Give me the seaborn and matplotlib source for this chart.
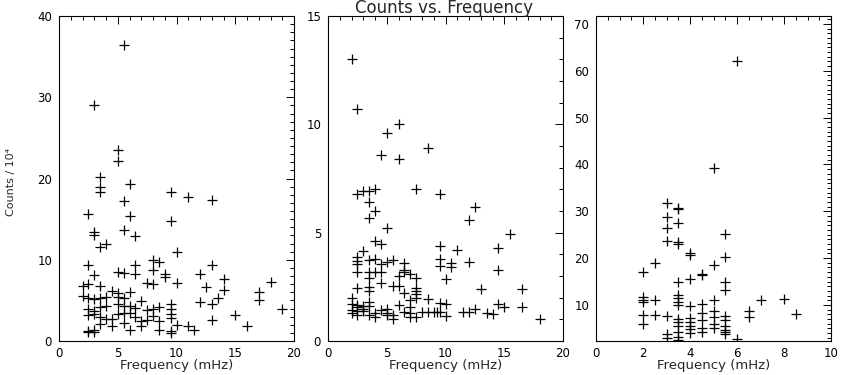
import matplotlib
matplotlib.use("Agg")
import matplotlib.pyplot as plt
from matplotlib.ticker import MultipleLocator
import seaborn as sns
import pandas as pd

# ---------------- data ----------------
freq1 = [5.5, 3, 5, 5, 3.5, 3.5, 3.5, 6, 9.5, 11, 13, 5.5, 2.5, 6, 9.5, 3, 3, 5.5, 6.5, 4, 3.5, 10,
         2.5, 6.5, 13, 8, 8.5, 3, 5, 5.5, 6.5, 8, 9, 9, 12, 14, 18, 7.5, 8, 10, 2, 2.5, 3.5, 12.5, 14,
         17, 17, 4.5, 5, 6,
         2, 2.5, 3, 3.5, 4, 5, 5.5, 7, 13.5, 12, 13, 19, 15, 16, 13, 11, 11.5, 10, 9.5,
         2.5, 3, 3.5, 4, 5, 5.5, 6, 6.5, 7.5, 8, 8.5, 9.5, 9.5,
         2.5, 3, 3.5, 4, 4.5, 5, 5.5, 6, 6.5, 7, 7.5, 8, 8.5, 9.5, 9.5,
         3.5, 4.5, 5.5, 7,
         2.5, 3, 6, 8.5, 9.5, 3, 2.5]
counts1 = [36.4, 29.0, 23.5, 22.1, 20.2, 19.0, 18.4, 19.3, 18.4, 17.7, 17.4, 17.2, 15.6, 15.4, 14.8,
           13.4, 13.1, 13.7, 12.9, 12.0, 11.6, 11.0,
           9.3, 9.3, 9.3, 10.0, 9.7, 8.1, 8.5, 8.4, 8.2, 8.7, 8.2, 7.9, 8.3, 7.6, 7.3, 7.2, 7.0, 7.1,
           6.8, 7.0, 6.8, 6.6, 6.3, 6.0, 5.0, 6.1, 5.9, 6.0,
           5.5, 5.3, 5.2, 5.3, 5.4, 5.4, 5.3, 4.9, 5.3, 4.8, 4.5, 3.9, 3.2, 1.8, 2.6, 1.8, 1.3, 2.0, 1.2,
           4.0, 3.7, 4.2, 4.3, 4.5, 4.3, 4.3, 4.1, 3.8, 4.0, 4.2, 4.6, 4.0,
           3.2, 3.3, 2.9, 2.7, 2.7, 3.3, 3.5, 3.4, 2.9, 2.5, 2.6, 3.1, 2.5, 3.3, 2.8,
           2.1, 1.9, 2.2, 1.9,
           1.2, 1.1, 1.3, 1.4, 1.0, 1.3, 1.1]

freq2 = [2, 2.5, 6, 5, 8.5, 4.5, 6, 2.5, 3, 3.5, 4, 7.5, 9.5, 12.5, 12, 3.5, 4, 3.5, 5, 15.5, 4, 4.5,
         9.5, 14.5, 11, 3,
         2.5, 2.5, 2.5, 3.5, 4, 4.5, 5, 5.5, 6.5, 9.5, 9.5, 10.5, 10.5, 12, 14.5,
         2.5, 3.5, 4, 4.5, 6.5, 6.5, 7, 6, 3.5, 4.5, 10, 7.5,
         5.5, 6, 2.5, 3.5, 3.5, 6.5, 7.5, 7.5, 7.5, 7.5, 13, 16.5, 8.5,
         2, 2, 2, 2, 2.5, 2.5, 2.5, 3, 3, 3.5, 3.5, 3.5, 4, 4, 4.5, 5, 5, 5, 5.5, 5.5, 6, 6.5, 7, 7,
         7, 7, 7.5, 8.5, 9, 9.3, 9.5, 9.5, 10, 10, 11.5, 12, 12.5, 13.5, 14, 14.5, 15, 16.5, 18, 8,
         2.5, 3]
counts2 = [13.0, 10.7, 10.0, 9.6, 8.9, 8.6, 8.4, 6.8, 6.9, 6.9, 7.0, 7.0, 6.8, 6.2, 5.6, 6.4, 6.0,
           5.7, 5.2, 4.95, 4.6, 4.5, 4.4, 4.3, 4.2, 4.15,
           3.9, 3.7, 3.55, 3.75, 3.8, 3.55, 3.65, 3.75, 3.6, 3.8, 3.45, 3.6, 3.4, 3.65, 3.3,
           3.2, 3.2, 3.2, 3.2, 3.3, 3.2, 3.1, 3.0, 2.9, 2.7, 2.85, 2.9,
           2.55, 2.55, 2.45, 2.5, 2.3, 2.2, 2.45, 2.3, 2.15, 1.97, 2.4, 2.4, 1.95,
           1.97, 1.7, 1.45, 1.3, 1.67, 1.4, 1.2, 1.6, 1.38, 1.8, 1.6, 1.2, 1.3, 1.12, 1.45, 1.5, 1.3,
           1.2, 1.2, 1.0, 1.65, 1.32, 1.55, 1.9, 1.27, 1.1, 1.1, 1.35, 1.35, 1.35, 1.75, 1.35, 1.7,
           1.15, 1.35, 1.35, 1.5, 1.3, 1.25, 1.73, 1.58, 1.58, 1.0, 1.35,
           1.55, 1.5]

freq3 = [6, 5, 3, 3.5, 3.5, 3, 3.5, 3, 5.5, 3, 3.5, 3.5, 4, 4, 5.5, 2.5, 5, 2, 4.5, 4.5, 4, 3.5,
         5.5, 5.5,
         2, 2, 2, 2.5, 3.5, 3.5, 3.5, 3.5, 4, 4.5, 5, 7, 8, 6.5, 6.5, 8.5,
         2, 2, 2.5, 3, 3.5, 3.5, 3.5, 3.5, 3.5, 3.5, 4, 4, 4, 4, 4, 4.5, 4.5, 4.5, 4.5, 5, 5, 5, 5,
         5.5, 5.5, 5.5, 5.5, 5.5, 5.5, 6, 3, 3]
counts3 = [62.0, 39.2, 31.7, 30.8, 30.5, 28.7, 27.5, 26.4, 25.2, 23.7, 23.4, 23.0, 21.0, 20.6, 20.3,
           19.0, 18.5, 17.1, 16.7, 16.4, 15.6, 15.0, 14.9, 13.2,
           11.6, 11.0, 10.7, 11.1, 12.2, 11.5, 10.6, 10.0, 9.7, 10.2, 11.1, 11.1, 11.2, 8.6, 7.5, 8.0,
           7.8, 5.9, 7.9, 7.6, 7.0, 6.3, 5.4, 4.2, 3.2, 2.6, 7.2, 6.4, 5.4, 4.8, 4.0, 8.2, 6.8, 5.1,
           4.2, 8.8, 7.5, 6.0, 5.0, 7.7, 6.8, 5.6, 4.7, 4.2, 3.7, 2.7, 3.7, 3.0]

panels = [
    dict(x=freq1, y=counts1, xlim=(0, 20), ylim=(0, 40), xmaj=5, xmin=1, ymaj=10, ymin=1),
    dict(x=freq2, y=counts2, xlim=(0, 20), ylim=(0, 15), xmaj=5, xmin=1, ymaj=5, ymin=1),
    dict(x=freq3, y=counts3, xlim=(0, 10), ylim=(2.3, 71.7), xmaj=2, xmin=0.5, ymaj=10, ymin=1),
]

# ---------------- figure ----------------
sns.set_style("white")
plt.rcParams["font.family"] = ["DejaVu Sans"]

W, H = 841, 375
fig = plt.figure(figsize=(W / 100, H / 100), dpi=100)

lefts = [59, 328, 596]
pw = 235
top_px, bot_px = 16, 341
ah = bot_px - top_px

for i, (lp, p) in enumerate(zip(lefts, panels)):
    ax = fig.add_axes([lp / W, 1 - bot_px / H, pw / W, ah / H])
    df = pd.DataFrame({"freq": p["x"], "counts": p["y"]})
    sns.scatterplot(data=df, x="freq", y="counts", ax=ax, marker="+", color="black",
                    s=48, linewidth=0.9, legend=False, zorder=3)
    ax.set_xlim(*p["xlim"])
    ax.set_ylim(*p["ylim"])
    ax.xaxis.set_major_locator(MultipleLocator(p["xmaj"]))
    ax.xaxis.set_minor_locator(MultipleLocator(p["xmin"]))
    ax.yaxis.set_major_locator(MultipleLocator(p["ymaj"]))
    ax.yaxis.set_minor_locator(MultipleLocator(p["ymin"]))
    ax.tick_params(which="both", direction="in", top=True, right=True, colors="black",
                   width=0.7)
    ax.tick_params(which="major", length=6, labelsize=8.5)
    ax.tick_params(axis="x", which="major", pad=4)
    ax.tick_params(axis="y", which="major", pad=5)
    ax.tick_params(which="minor", length=3)
    for s in ax.spines.values():
        s.set_linewidth(0.8)
        s.set_color("black")
    ax.set_xlabel("Frequency (mHz)", fontsize=9.5, va="center")
    ax.xaxis.set_label_coords(0.5, -(366 - bot_px) / ah)
    ax.set_ylabel("")
    ax.set_facecolor("white")

fig.text(443.5 / W, 1 - 8 / H, "Counts vs. Frequency", ha="center", va="center", fontsize=12)
fig.text(11 / W, 1 - 182 / H, "Counts / 10\u2074", rotation=90, ha="center", va="center",
         fontsize=8)

fig.savefig("out.png", dpi=100, facecolor="white")
